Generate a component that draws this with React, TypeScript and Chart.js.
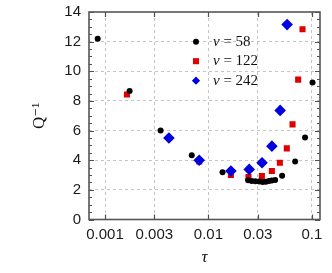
import React, { useEffect, useRef } from "react";
import { Chart, registerables } from "chart.js";

Chart.register(...registerables);

const tau58 = [0.00085, 0.00173, 0.00345, 0.0069, 0.0137, 0.0242, 0.0262, 0.0285, 0.031, 0.0335, 0.036, 0.0385, 0.041, 0.0442, 0.0516, 0.069, 0.086, 0.1016];
const q58 = [12.2, 8.67, 6.0, 4.34, 3.18, 2.64, 2.6, 2.58, 2.56, 2.53, 2.55, 2.6, 2.63, 2.67, 2.95, 3.92, 5.54, 9.24];

const tau122 = [0.00163, 0.00815, 0.0165, 0.0244, 0.0329, 0.0411, 0.0491, 0.0573, 0.0651, 0.0738, 0.0813];
const q122 = [8.43, 3.92, 3.0, 2.86, 2.93, 3.27, 3.83, 4.8, 6.42, 9.44, 12.84];

const tau242 = [0.00415, 0.00815, 0.0165, 0.0248, 0.033, 0.0411, 0.0494, 0.0577];
const q242 = [5.5, 4.0, 3.27, 3.38, 3.83, 4.95, 7.36, 13.15];

const xTicks = [0.001, 0.003, 0.01, 0.03, 0.1];
const xTickLabels = ["0.001", "0.003", "0.01", "0.03", "0.1"];
const yTicks = [0, 2, 4, 6, 8, 10, 12, 14];
const yMinorStep = 0.5;

const seriesNames = ["58", "122", "242"];
const seriesColors = ["#000000", "#e00000", "#0000e0"];
const seriesStyles = ["circle", "rect", "rectRot"];
const seriesRadius = [3, 4.3, 5.8];

const SERIF = '"Liberation Serif", "DejaVu Serif", serif';
const SANS = '"Liberation Sans", Arial, sans-serif';

const toPts = (xs: number[], ys: number[]) => xs.map((x, i) => ({ x, y: ys[i] }));

const frameTicks = {
  id: "frameTicks",
  afterDatasetsDraw(chart: any) {
    const { ctx, chartArea } = chart;
    const { left, right, top, bottom } = chartArea;
    const xs = chart.scales.x;
    const ys = chart.scales.y;
    ctx.save();
    ctx.strokeStyle = "#505050";
    ctx.lineWidth = 1.2;
    for (let v = 0; v <= 14 + 1e-9; v += yMinorStep) {
      const py = Math.round(ys.getPixelForValue(v)) + 0.5;
      const major = Math.abs(v / 2 - Math.round(v / 2)) < 1e-9;
      const len = major ? 5 : 3;
      ctx.beginPath();
      ctx.moveTo(left, py);
      ctx.lineTo(left + len, py);
      ctx.moveTo(right, py);
      ctx.lineTo(right - len, py);
      ctx.stroke();
    }
    for (const v of xTicks) {
      const px = Math.round(xs.getPixelForValue(v)) + 0.5;
      ctx.beginPath();
      ctx.moveTo(px, bottom);
      ctx.lineTo(px, bottom - 5);
      ctx.moveTo(px, top);
      ctx.lineTo(px, top + 5);
      ctx.stroke();
    }
    ctx.lineWidth = 1.6;
    ctx.strokeStyle = "#555555";
    ctx.strokeRect(left, top, right - left, bottom - top);
    ctx.restore();
  },
};

const drawMarker = (ctx: CanvasRenderingContext2D, style: string, x: number, y: number, r: number, color: string) => {
  ctx.fillStyle = color;
  ctx.beginPath();
  if (style === "circle") {
    ctx.arc(x, y, r, 0, Math.PI * 2);
  } else if (style === "rect") {
    const s = r * Math.SQRT1_2;
    ctx.rect(x - s, y - s, 2 * s, 2 * s);
  } else {
    const s = r * Math.SQRT1_2;
    ctx.moveTo(x - s, y);
    ctx.lineTo(x, y + s);
    ctx.lineTo(x + s, y);
    ctx.lineTo(x, y - s);
    ctx.closePath();
  }
  ctx.fill();
};

const innerLegend = {
  id: "innerLegend",
  afterDraw(chart: any) {
    const { ctx } = chart;
    const mx = 196;
    const tx = 213;
    const rows = [41.7, 61.2, 80.7];
    ctx.save();
    ctx.textBaseline = "middle";
    seriesNames.forEach((name, i) => {
      const y = rows[i];
      drawMarker(ctx, seriesStyles[i], mx, y, seriesRadius[i], seriesColors[i]);
      ctx.fillStyle = "#111";
      ctx.font = `italic 15px ${SERIF}`;
      ctx.fillText("ν", tx, y);
      const w = ctx.measureText("ν").width;
      ctx.font = `15px ${SERIF}`;
      ctx.fillText(" = " + name, tx + w, y);
    });
    ctx.restore();
  },
};

export default function App() {
  const ref = useRef<HTMLCanvasElement | null>(null);
  useEffect(() => {
    if (!ref.current) return;
    const mk = (i: number, xs: number[], ys: number[], order: number) => ({
      label: "ν = " + seriesNames[i],
      data: toPts(xs, ys),
      showLine: false,
      pointStyle: seriesStyles[i],
      pointRadius: seriesRadius[i],
      pointBackgroundColor: seriesColors[i],
      pointBorderColor: seriesColors[i],
      pointBorderWidth: 0,
      order,
    });
    const chart = new Chart(ref.current, {
      type: "scatter",
      data: {
        datasets: [mk(0, tau58, q58, 1), mk(1, tau122, q122, 2), mk(2, tau242, q242, 0)],
      },
      plugins: [frameTicks, innerLegend],
      options: {
        animation: false,
        responsive: false,
        devicePixelRatio: 1,
        layout: { padding: { left: 0, right: 12, top: 12, bottom: 0 } },
        plugins: { legend: { display: false }, tooltip: { enabled: false } },
        scales: {
          x: {
            type: "logarithmic",
            min: 0.0007,
            max: 0.12,
            afterBuildTicks: (scale: any) => {
              scale.ticks = xTicks.map((v) => ({ value: v }));
            },
            afterFit: (scale: any) => {
              scale.height = 53.5;
              scale.paddingLeft = 0;
              scale.paddingRight = 0;
            },
            ticks: {
              autoSkip: false,
              maxRotation: 0,
              padding: 6,
              color: "#1a1a1a",
              font: { family: SANS, size: 15 },
              callback: (v: any) => {
                const i = xTicks.findIndex((t) => Math.abs(t - Number(v)) < 1e-12);
                return i >= 0 ? xTickLabels[i] : "";
              },
            },
            grid: { color: "#c4c4c4", lineWidth: 1, drawTicks: false },
            border: { display: false, dash: [3, 3] },
            title: {
              display: true,
              text: "τ",
              color: "#111",
              font: { family: SERIF, size: 17, style: "italic" },
              padding: { top: 0, bottom: 5 },
            },
          },
          y: {
            min: 0,
            max: 14,
            afterBuildTicks: (scale: any) => {
              scale.ticks = yTicks.map((v) => ({ value: v }));
            },
            afterFit: (scale: any) => {
              scale.width = 89;
              scale.paddingTop = 0;
              scale.paddingBottom = 0;
            },
            ticks: {
              padding: 8,
              color: "#1a1a1a",
              font: { family: SANS, size: 15 },
              callback: (v: any) => String(v),
            },
            grid: {
              color: (c: any) => (c.tick && (c.tick.value === 0 || c.tick.value === 14) ? "rgba(0,0,0,0)" : "#c4c4c4"),
              lineWidth: 1,
              drawTicks: false,
            },
            border: { display: false, dash: [3, 3] },
            title: {
              display: true,
              text: "Q⁻¹",
              color: "#111",
              font: { family: SERIF, size: 17 },
              padding: { top: 29, bottom: 0 },
            },
          },
        },
      },
    } as any);
    return () => chart.destroy();
  }, []);
  return (
    <div style={{ position: "absolute", left: 0, top: 0, width: 332, height: 273, background: "#fff" }}>
      <canvas ref={ref} width={332} height={273} style={{ display: "block" }} />
    </div>
  );
}
